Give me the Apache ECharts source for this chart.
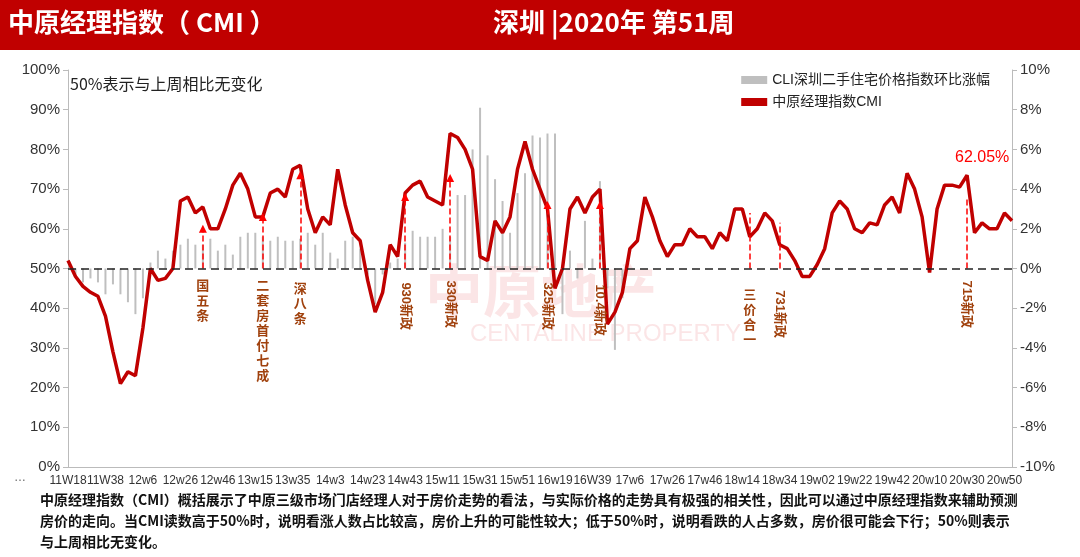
<!DOCTYPE html>
<html><head><meta charset="utf-8">
<script src="https://cdn.jsdelivr.net/npm/echarts@6/dist/echarts.min.js"></script>
<style>body{margin:0}#c{width:1080px;height:557px}</style></head>
<body><div id="c"></div>
<script>
const tickLabels=['11W18','11W38','12w6','12w26','12w46','13w15','13w35','14w3','14w23','14w43','15w11','15w31','15w51','16w19','16W39','17w6','17w26','17w46','18w14','18w34','19w02','19w22','19w42','20w10','20w30','20w50'];
const cmi=[52,48,45.5,44,43,38,29,21,24,23,35,50,47,47.5,50,67,68,64,65.5,60,60,65,71,74,70,63,63,69,70,68,75,76,65,59,63,61,75,66,59,57,47,39,44,56,53,69,71,72,68,67,66,84,83,80,75,53,52,62,59,63,75,82,75,70,65,45,50,65,68,64,68,70,36,39,44,55,57,68,63,57,53,56,56,60,58,58,55,59,57,65,65,58,60,64,62,56,55,52,48,48,51,55,64,67,65,60,59,61.5,61,66,68,64,74,70,63,49,65,71,71,70.5,73.5,59,61.5,60,60,64,62.05];
const cli=[0,-0.3,-0.7,-0.5,-0.7,-1.3,-0.8,-1.3,-1.7,-2.3,-1.5,0.3,0.9,0.5,0.9,1.2,1.5,1.2,1.2,1.5,0.9,1.2,0.7,1.6,1.8,1.8,1.6,1.4,1.6,1.4,1.4,1.5,1.8,1.2,1.8,0.8,0.5,1.4,1.6,1.0,-0.3,-1.8,-0.3,0.3,0.5,1.3,1.9,1.6,1.6,1.6,2.0,1.6,3.7,3.7,6.0,8.1,5.7,4.5,3.4,1.8,3.8,4.8,6.7,6.6,6.8,6.8,-2.3,0.9,-0.5,2.4,0.5,4.4,-1,-4.1,-1.5,0];
const events=[['国五条',18,60,47.5,true,false],['二套房首付七成',26,63,47.5,true,false],['深八条',31,73.5,46.5,true,false],['930新政',45,68,46.5,true,true],['330新政',51,72.8,47,true,true],['325新政',64,66,46.5,true,true],['10.4新政',71,66,46,true,true],['三价合一',91,64,45,false,false],['731新政',95,61.5,44.5,false,true],['715新政',120,68,47,false,true]];
const cats=cmi.map((_,i)=>i);
const ch=echarts.init(document.getElementById('c'));
const red='#c00000',brown='#a0410d';
const lines=events.map(e=>[{coord:[e[1],50],symbol:'none'},{coord:[e[1],e[2]],symbol:e[4]?'triangle':'none',symbolSize:8}]);
const pts=events.map(e=>({coord:[e[1],e[3]],symbolSize:0,label:e[5]?{show:true,formatter:e[0],rotate:-90,align:'left',verticalAlign:'middle',color:brown,fontSize:13,fontWeight:'bold'}:{show:true,formatter:e[0].split('').join('\n'),verticalAlign:'top',align:'center',lineHeight:15,color:brown,fontSize:13,fontWeight:'bold'}}));
ch.setOption({
 animation:false,
 textStyle:{fontFamily:'Liberation Sans, Noto Sans CJK SC'},
 graphic:[
  {type:'rect',shape:{x:0,y:0,width:1080,height:50},style:{fill:red}},
  {type:'text',left:8,top:9,style:{text:'中原经理指数（ CMI ）',fill:'#fff',font:'bold 26px Noto Sans CJK SC'}},
  {type:'text',left:493,top:9,style:{text:'深圳 |2020年 第51周',fill:'#fff',font:'bold 26px Noto Sans CJK SC'}},
  {type:'text',left:425,top:262,style:{text:'中原地产',fill:'rgba(230,80,90,0.15)',font:'bold 58px Noto Sans CJK SC'}},
  {type:'text',left:470,top:322,style:{text:'CENTALINE PROPERTY',fill:'rgba(230,80,90,0.15)',font:'24px Liberation Sans'}},
  {type:'text',left:70,top:76,style:{text:'50%表示与上周相比无变化',fill:'#222',font:'16px Noto Sans CJK SC'}},
  {type:'text',left:955,top:150,style:{text:'62.05%',fill:'#ff0000',font:'16px Liberation Sans'}},
  {type:'text',left:14,top:472,style:{text:'…',fill:'#666',font:'12px Liberation Sans'}},
  {type:'text',left:40,top:489,style:{text:'中原经理指数（CMI）概括展示了中原三级市场门店经理人对于房价走势的看法，与实际价格的走势具有极强的相关性，因此可以通过中原经理指数来辅助预测\n房价的走向。当CMI读数高于50%时，说明看涨人数占比较高，房价上升的可能性较大；低于50%时，说明看跌的人占多数，房价很可能会下行；50%则表示\n与上周相比无变化。',fill:'#111',font:'bold 14px Noto Sans CJK SC',lineHeight:21}}
 ],
 legend:{right:85,top:68,orient:'vertical',itemGap:8,itemWidth:26,itemHeight:8,textStyle:{fontSize:14,color:'#222'},
  data:[{name:'CLI深圳二手住宅价格指数环比涨幅',icon:'rect',itemStyle:{color:'#bfbfbf'}},{name:'中原经理指数CMI',icon:'rect',itemStyle:{color:red}}]},
 grid:{left:68,right:68,top:70,bottom:90},
 xAxis:{type:'category',data:cats,boundaryGap:false,axisLine:{lineStyle:{color:'#bbb'}},axisTick:{show:false},
  axisLabel:{interval:4,color:'#333',fontSize:12,margin:8,formatter:(v,i)=>tickLabels[i/5]||''}},
 yAxis:[
  {type:'value',min:0,max:100,interval:10,splitLine:{show:false},axisLine:{show:true,lineStyle:{color:'#bbb'}},axisTick:{show:true,length:5,inside:false},axisLabel:{color:'#333',fontSize:15,formatter:'{value}%'}},
  {type:'value',min:-10,max:10,interval:2,splitLine:{show:false},axisLine:{show:true,lineStyle:{color:'#bbb'}},axisTick:{show:true,length:5},axisLabel:{color:'#333',fontSize:15,formatter:'{value}%'}}
 ],
 series:[
  {name:'CLI深圳二手住宅价格指数环比涨幅',type:'bar',yAxisIndex:1,data:cli,barWidth:2,itemStyle:{color:'#bfbfbf'}},
  {name:'中原经理指数CMI',type:'line',data:cmi,symbol:'none',lineStyle:{color:red,width:3.5},itemStyle:{color:red},
   markLine:{silent:true,symbol:'none',label:{show:false},lineStyle:{color:'#ff0000',type:'dashed',width:1.5},data:[...lines,[{coord:[0,50],symbol:'none',lineStyle:{color:'#222',type:[8,5],width:1.5}},{coord:[126,50],symbol:'none'}]]},
   markPoint:{symbol:'circle',data:pts}}
 ]
});
</script></body></html>
